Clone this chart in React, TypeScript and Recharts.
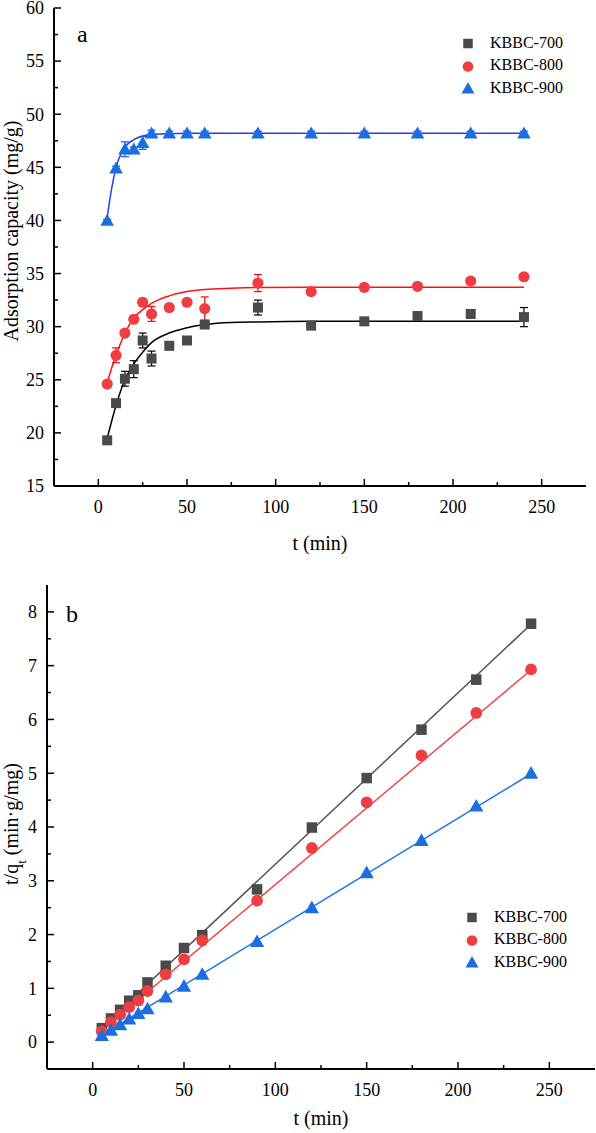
import React from 'react';
import { ComposedChart, Scatter, Line, XAxis, YAxis, ErrorBar, Legend, Label } from 'recharts';

const FONT = 'Liberation Serif';

// sampling times (min), shared by both panels
const times = [5, 10, 15, 20, 25, 30, 40, 50, 60, 90, 120, 150, 180, 210, 240];

// panel a: adsorption capacity (mg/g) with error bars
const q700 = [19.3, 22.8, 25.1, 26.0, 28.7, 27.0, 28.2, 28.7, 30.2, 31.8, 30.1, 30.5, 31.0, 31.2, 30.9];
const q700Err = [0.3, 0.3, 0.7, 0.8, 0.7, 0.7, 0.3, 0.3, 0.3, 0.7, 0.3, 0.3, 0.3, 0.4, 0.9];
const q800 = [24.6, 27.3, 29.4, 30.7, 32.3, 31.2, 31.8, 32.3, 31.7, 34.1, 33.3, 33.7, 33.8, 34.3, 34.7];
const q800Err = [0.2, 0.7, 0.3, 0.3, 0.3, 0.7, 0.3, 0.3, 1.1, 0.8, 0.2, 0.3, 0.2, 0.3, 0.3];
const q900 = [40.0, 44.9, 46.7, 46.7, 47.3, 48.2, 48.2, 48.2, 48.2, 48.2, 48.2, 48.2, 48.2, 48.2, 48.2];
const q900Err = [0.1, 0.2, 0.7, 0.2, 0.6, 0.3, 0.2, 0.2, 0.2, 0.2, 0.2, 0.2, 0.2, 0.2, 0.2];

// fitted curves of panel a
const fitTimes = [5, 7.5, 10, 15, 20, 25, 30, 40, 50, 60, 75, 90, 120, 150, 180, 210, 240];
const fit700 = [19.5, 21.1, 22.6, 25.0, 26.5, 27.6, 28.5, 29.4, 29.9, 30.2, 30.4, 30.45, 30.5, 30.5, 30.5, 30.5, 30.5];
const fit800 = [24.7, 26.1, 27.3, 29.4, 30.8, 31.6, 32.2, 32.9, 33.3, 33.5, 33.62, 33.68, 33.7, 33.7, 33.7, 33.7, 33.7];
const fit900 = [40.3, 43.0, 45.0, 46.9, 47.6, 47.95, 48.1, 48.17, 48.2, 48.2, 48.2, 48.2, 48.2, 48.2, 48.2, 48.2, 48.2];

// panel b: t/qt (min·g/mg)
const tq700 = [0.26, 0.44, 0.6, 0.77, 0.87, 1.11, 1.42, 1.75, 1.99, 2.84, 3.99, 4.91, 5.81, 6.74, 7.78];
const tq800 = [0.2, 0.37, 0.51, 0.65, 0.77, 0.95, 1.26, 1.54, 1.89, 2.63, 3.61, 4.46, 5.33, 6.12, 6.93];
const tq900 = [0.12, 0.22, 0.32, 0.43, 0.53, 0.62, 0.84, 1.04, 1.26, 1.87, 2.5, 3.15, 3.75, 4.39, 5.0];

// linear fits of panel b (end points)
const lineTimes = [5, 240];
const line700 = [0.28, 7.77];
const line800 = [0.22, 6.92];
const line900 = [0.13, 4.99];

// axes
const tTicks = [0, 25, 50, 75, 100, 125, 150, 175, 200, 225, 250];
const qTicks = [15, 17.5, 20, 22.5, 25, 27.5, 30, 32.5, 35, 37.5, 40, 42.5, 45, 47.5, 50, 52.5, 55, 57.5, 60];
const tqTicks = [0, 0.5, 1, 1.5, 2, 2.5, 3, 3.5, 4, 4.5, 5, 5.5, 6, 6.5, 7, 7.5, 8];

const SERIES = {
  'KBBC-700': { kind: 'square', fill: '#4a4a4a', err: '#000000', fitA: '#000000', fitB: '#555555' },
  'KBBC-800': { kind: 'circle', fill: '#ef3e42', err: '#e01010', fitA: '#ff1010', fitB: '#f04848' },
  'KBBC-900': { kind: 'triangle', fill: '#1a6fe0', err: '#1a50e0', fitA: '#2040f0', fitB: '#1f7ae0' },
} as const;

type Kind = 'square' | 'circle' | 'triangle';

const zipPoints = (xs: number[], ys: number[], errs?: number[]) =>
  xs.map((t, i) => ({ t, q: ys[i], err: errs ? errs[i] : 0 }));

function markerShape(kind: Kind, fill: string, s = 1) {
  return (props: any) => {
    const { cx, cy } = props;
    if (cx == null || cy == null) return <g />;
    if (kind === 'square') {
      const h = 5 * s;
      return <rect x={cx - h} y={cy - h} width={2 * h} height={2 * h} fill={fill} />;
    }
    if (kind === 'circle') return <circle cx={cx} cy={cy} r={5.6 * s} fill={fill} />;
    const w = 6.8 * s;
    return (
      <polygon
        points={`${cx},${cy - 6.8 * s} ${cx - w},${cy + 5.2 * s} ${cx + w},${cy + 5.2 * s}`}
        fill={fill}
      />
    );
  };
}

function XTick(props: any) {
  const { x, y, payload } = props;
  const v = payload.value;
  const major = v % 50 === 0;
  return (
    <g>
      <line x1={x} x2={x} y1={y} y2={y - (major ? 7 : 4)} stroke="#000" strokeWidth={1.5} />
      {major && (
        <text x={x} y={y + 21} dy="0.35em" textAnchor="middle" style={{ fontFamily: FONT }} fontSize={18} fill="#000">
          {v}
        </text>
      )}
    </g>
  );
}

const makeYTick = (isMajor: (v: number) => boolean) => (props: any) => {
  const { x, y, payload } = props;
  const v = payload.value;
  const major = isMajor(v);
  return (
    <g>
      <line x1={x} x2={x + (major ? 7 : 4)} y1={y} y2={y} stroke="#000" strokeWidth={1.5} />
      {major && (
        <text x={x - 10} y={y} dy="0.35em" textAnchor="end" style={{ fontFamily: FONT }} fontSize={18} fill="#000">
          {v}
        </text>
      )}
    </g>
  );
};

const YTickA = makeYTick((v) => v % 5 === 0);
const YTickB = makeYTick((v) => Number.isInteger(v));

function LegendList({ payload }: any) {
  const items = (payload || []).filter((p: any) => p.type !== 'none' && (SERIES as any)[p.value]);
  return (
    <div style={{ fontFamily: FONT, fontSize: 16, color: '#000' }}>
      {items.map((p: any) => {
        const cfg = (SERIES as any)[p.value];
        const Shape = markerShape(cfg.kind, cfg.fill, 0.95);
        return (
          <div key={p.value} style={{ display: 'flex', alignItems: 'center', height: 22.5 }}>
            <svg width={16} height={16} style={{ display: 'block' }}>
              <Shape cx={8} cy={8.5} />
            </svg>
            <span style={{ marginLeft: 14, lineHeight: '22.5px' }}>{p.value}</span>
          </div>
        );
      })}
    </div>
  );
}

const XTitle = (dy: number) => (props: any) => {
  const { x, y, width } = props.viewBox;
  return (
    <text x={x + width / 2} y={y + dy} dy="0.35em" textAnchor="middle" style={{ fontFamily: FONT }} fontSize={20} fill="#000">
      t (min)
    </text>
  );
};

const frame = { stroke: '#000', strokeWidth: 2 };

function PanelA() {
  const names = Object.keys(SERIES) as (keyof typeof SERIES)[];
  const points = [zipPoints(times, q700, q700Err), zipPoints(times, q800, q800Err), zipPoints(times, q900, q900Err)];
  const fits = [zipPoints(fitTimes, fit700), zipPoints(fitTimes, fit800), zipPoints(fitTimes, fit900)];
  return (
    <ComposedChart width={596} height={560} margin={{ top: 8, right: 10, bottom: 0, left: 0 }}>
      <XAxis
        dataKey="t"
        type="number"
        domain={[-25, 275]}
        ticks={tTicks}
        interval={0}
        allowDataOverflow
        height={74}
        tickSize={0}
        tickMargin={0}
        tick={<XTick />}
        axisLine={frame}
      >
        <Label content={XTitle(57)} />
      </XAxis>
      <XAxis xAxisId="top" orientation="top" type="number" domain={[-25, 275]} height={0} tick={false} tickLine={false} axisLine={frame} />
      <YAxis
        type="number"
        domain={[15, 60]}
        ticks={qTicks}
        interval={0}
        allowDataOverflow
        width={54}
        tickSize={0}
        tickMargin={0}
        tick={<YTickA />}
        axisLine={frame}
      >
        <Label
          content={(props: any) => {
            const { y, height } = props.viewBox;
            return (
              <text
                transform={`translate(11,${y + height / 2 - 16}) rotate(-90)`}
                dy="0.35em"
                textAnchor="middle"
                style={{ fontFamily: FONT }}
                fontSize={20}
                fill="#000"
              >
                Adsorption capacity (mg/g)
              </text>
            );
          }}
        />
      </YAxis>
      <YAxis yAxisId="right" orientation="right" type="number" domain={[15, 60]} width={0} tick={false} tickLine={false} axisLine={frame} />
      {names.map((n, i) => (
        <Line
          key={`fit-${n}`}
          data={fits[i]}
          dataKey="q"
          type="monotone"
          stroke={SERIES[n].fitA}
          strokeWidth={1.5}
          dot={false}
          legendType="none"
          isAnimationActive={false}
        />
      ))}
      {names.map((n, i) => (
        <Scatter
          key={n}
          name={n}
          data={points[i]}
          dataKey="q"
          fill={SERIES[n].fill}
          shape={markerShape(SERIES[n].kind as Kind, SERIES[n].fill)}
          isAnimationActive={false}
        >
          <ErrorBar dataKey="err" direction="y" width={4} stroke={SERIES[n].err} strokeWidth={1.2} />
        </Scatter>
      ))}
      <Legend
        layout="vertical"
        align="center"
        verticalAlign="middle"
        content={<LegendList />}
        wrapperStyle={{ left: 460, top: 31.75, width: 'auto' }}
      />
    </ComposedChart>
  );
}

function PanelB() {
  const names = Object.keys(SERIES) as (keyof typeof SERIES)[];
  const points = [zipPoints(times, tq700), zipPoints(times, tq800), zipPoints(times, tq900)];
  const fits = [zipPoints(lineTimes, line700), zipPoints(lineTimes, line800), zipPoints(lineTimes, line900)];
  return (
    <ComposedChart width={596} height={573} margin={{ top: 25, right: 1, bottom: 0, left: 0 }}>
      <XAxis
        dataKey="t"
        type="number"
        domain={[-25, 275]}
        ticks={tTicks}
        interval={0}
        allowDataOverflow
        height={64}
        tickSize={0}
        tickMargin={0}
        tick={<XTick />}
        axisLine={frame}
      >
        <Label content={XTitle(49)} />
      </XAxis>
      <XAxis xAxisId="top" orientation="top" type="number" domain={[-25, 275]} height={0} tick={false} tickLine={false} axisLine={frame} />
      <YAxis
        type="number"
        domain={[-0.5, 8.5]}
        ticks={tqTicks}
        interval={0}
        allowDataOverflow
        width={47}
        tickSize={0}
        tickMargin={0}
        tick={<YTickB />}
        axisLine={frame}
      >
        <Label
          content={(props: any) => {
            const { y, height } = props.viewBox;
            return (
              <text
                transform={`translate(11,${y + height / 2 - 3}) rotate(-90)`}
                dy="0.35em"
                textAnchor="middle"
                style={{ fontFamily: FONT }}
                fontSize={20}
                fill="#000"
              >
                t/q
                <tspan baselineShift="sub" fontSize={13}>t</tspan>
                <tspan> (min·g/mg)</tspan>
              </text>
            );
          }}
        />
      </YAxis>
      <YAxis yAxisId="right" orientation="right" type="number" domain={[-0.5, 8.5]} width={0} tick={false} tickLine={false} axisLine={frame} />
      {names.map((n, i) => (
        <Line
          key={`fit-${n}`}
          data={fits[i]}
          dataKey="q"
          type="linear"
          stroke={SERIES[n].fitB}
          strokeWidth={1.5}
          dot={false}
          legendType="none"
          isAnimationActive={false}
        />
      ))}
      {names.map((n, i) => (
        <Scatter
          key={n}
          name={n}
          data={points[i]}
          dataKey="q"
          fill={SERIES[n].fill}
          shape={markerShape(SERIES[n].kind as Kind, SERIES[n].fill, 1.05)}
          isAnimationActive={false}
        />
      ))}
      <Legend
        layout="vertical"
        align="center"
        verticalAlign="middle"
        content={<LegendList />}
        wrapperStyle={{ left: 464, top: 345.75, width: 'auto' }}
      />
    </ComposedChart>
  );
}

export default function App() {
  return (
    <div style={{ position: 'absolute', left: 0, top: 0, width: 596, height: 1133, background: '#fff' }}>
      <PanelA />
      <PanelB />
      <svg width={596} height={1133} style={{ position: 'absolute', left: 0, top: 0, pointerEvents: 'none' }}>
        <text x={77} y={42} style={{ fontFamily: FONT }} fontSize={24} fill="#000">a</text>
        <text x={66} y={621.5} style={{ fontFamily: FONT }} fontSize={24} fill="#000">b</text>
      </svg>
    </div>
  );
}
